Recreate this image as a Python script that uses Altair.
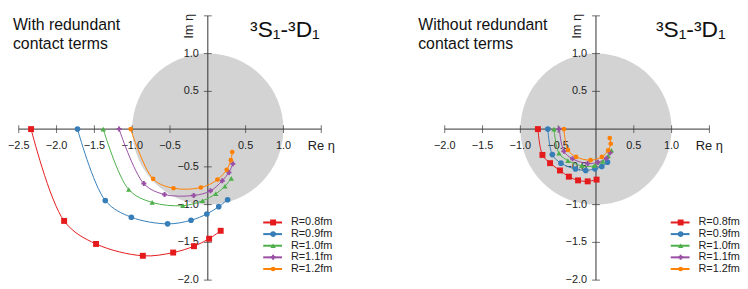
import altair as alt
import pandas as pd

# ---------------- data ----------------
labels = ["R=0.8fm", "R=0.9fm", "R=1.0fm", "R=1.1fm", "R=1.2fm"]
colors = ["#e41a1c", "#377eb8", "#4daf4a", "#984ea3", "#ff7f00"]
shapes = ["square", "circle", "triangle-up", "cross", "circle"]
sizes = [36, 22, 42, 24, 62]

# With redundant contact terms
w08_re = [-2.337, -1.900, -1.478, -0.859, -0.458, -0.183, 0.017, 0.170]
w08_im = [0.0, -1.216, -1.521, -1.678, -1.635, -1.551, -1.452, -1.347]
w09_re = [-1.723, -1.356, -1.011, -0.532, -0.222, -0.013, 0.144, 0.262]
w09_im = [0.0, -0.945, -1.167, -1.255, -1.207, -1.124, -1.027, -0.935]
w10_re = [-1.383, -1.046, -0.736, -0.331, -0.069, 0.105, 0.226, 0.310]
w10_im = [0.0, -0.800, -0.971, -1.014, -0.949, -0.857, -0.757, -0.652]
w11_re = [-1.173, -0.846, -0.572, -0.187, 0.035, 0.191, 0.279, 0.331]
w11_im = [0.0, -0.722, -0.866, -0.879, -0.818, -0.683, -0.574, -0.460]
w12_re = [-1.020, -0.723, -0.454, -0.092, 0.127, 0.249, 0.305, 0.323]
w12_im = [0.0, -0.660, -0.783, -0.774, -0.669, -0.538, -0.411, -0.303]

# Without redundant contact terms
n08_re = [-0.768, -0.708, -0.607, -0.476, -0.358, -0.237, -0.110, 0.008]
n08_im = [0.0, -0.342, -0.451, -0.548, -0.630, -0.679, -0.692, -0.669]
n09_re = [-0.637, -0.577, -0.463, -0.271, -0.136, -0.014, 0.077, 0.152]
n09_im = [0.0, -0.338, -0.451, -0.529, -0.548, -0.526, -0.496, -0.438]
n10_re = [-0.555, -0.489, -0.371, -0.188, -0.022, 0.090, 0.161, 0.204]
n10_im = [0.0, -0.320, -0.417, -0.486, -0.486, -0.430, -0.355, -0.280]
n11_re = [-0.485, -0.424, -0.310, -0.110, 0.025, 0.139, 0.187]
n11_im = [0.0, -0.293, -0.394, -0.456, -0.438, -0.385, -0.312]
n12_re = [-0.424, -0.371, -0.263, -0.071, 0.077, 0.161, 0.195, 0.182]
n12_im = [0.0, -0.276, -0.368, -0.411, -0.368, -0.280, -0.194, -0.119]

x_ticks_with = [-2.5, -2.0, -1.5, -1.0, -0.5, 0.5, 1.0]
x_ticks_without = [-2.0, -1.5, -1.0, -0.5, 0.5, 1.0]
y_ticks = [1.0, 0.5, -0.5, -1.0, -1.5, -2.0]
axis_end = 1.5
y_axis_start = -2.0

# ---------------- layout ----------------
W, H = 366, 273
SX, SY = 76.45, 76.33
OY = 122.9 - 8  # plot-area y of Im=0
FONT = "Liberation Sans"
AXC = "#333333"


def fmt(v):
    return f"{v:.1f}".replace("-", "\u2212")


def panel(series, xticks, ox, titles, title_x, term_x, leg_x):
    xs = alt.Scale(domain=[-ox / SX, (W - ox) / SX], nice=False, zero=False)
    ys = alt.Scale(domain=[(OY - H) / SY, OY / SY], nice=False, zero=False)
    X = lambda f: alt.X(f, type="quantitative", scale=xs, axis=None)
    Y = lambda f: alt.Y(f, type="quantitative", scale=ys, axis=None)

    circle = alt.Chart(pd.DataFrame({"x": [0.0], "y": [0.0]})).mark_point(
        shape="circle", filled=True, size=(2 * 76.4) ** 2, color="#d3d3d3", opacity=1, strokeWidth=0
    ).encode(x=X("x"), y=Y("y"))

    x_start = xticks[0]
    axes_df = pd.DataFrame({"x": [x_start, 0.0], "x2": [axis_end, 0.0],
                            "y": [0.0, y_axis_start], "y2": [0.0, axis_end]})
    axes = alt.Chart(axes_df).mark_rule(color=AXC, strokeWidth=1).encode(
        x=X("x"), x2="x2", y=Y("y"), y2="y2")

    xt_df = pd.DataFrame({"x": xticks + [axis_end], "y": 0.0,
                          "t": [fmt(v) for v in xticks] + [""]})
    yt_df = pd.DataFrame({"x": 0.0, "y": y_ticks + [axis_end],
                          "t": [fmt(v) for v in y_ticks] + [""]})
    xtick = alt.Chart(xt_df).mark_tick(orient="vertical", size=8, thickness=1, color=AXC).encode(
        x=X("x"), y=Y("y"))
    ytick = alt.Chart(yt_df).mark_tick(orient="horizontal", size=8, thickness=1, color=AXC).encode(
        x=X("x"), y=Y("y"))
    xlab = alt.Chart(xt_df).mark_text(dy=17, fontSize=11, font=FONT, color="#222222",
                                      baseline="middle", align="center").encode(
        x=X("x"), y=Y("y"), text="t:N")
    ylab = alt.Chart(yt_df).mark_text(dx=-9, fontSize=11, font=FONT, color="#222222",
                                      baseline="middle", align="right").encode(
        x=X("x"), y=Y("y"), text="t:N")
    re_lab = alt.Chart(pd.DataFrame({"x": [axis_end], "y": [0.0]})).mark_text(
        text="Re \u03b7", dy=17, fontSize=13, font=FONT, color="#222222", baseline="middle",
        align="center").encode(x=X("x"), y=Y("y"))
    im_lab = alt.Chart(pd.DataFrame({"x": [0.0], "y": [axis_end]})).mark_text(
        text="Im \u03b7", angle=270, dy=-19, dx=2, fontSize=13, font=FONT, color="#222222",
        baseline="middle", align="right").encode(x=X("x"), y=Y("y"))

    rows = []
    for lab, (re, im) in zip(labels, series):
        for i, (a, b) in enumerate(zip(re, im)):
            rows.append({"s": lab, "i": i, "re": a, "im": b})
    cdf = pd.DataFrame(rows)
    col = alt.Color("s:N", scale=alt.Scale(domain=labels, range=colors), legend=None)
    shp = alt.Shape("s:N", scale=alt.Scale(domain=labels, range=shapes), legend=None)
    siz = alt.Size("s:N", scale=alt.Scale(domain=labels, range=sizes), legend=None)
    lines = alt.Chart(cdf).mark_line(interpolate="catmull-rom", strokeWidth=1).encode(
        x=X("re"), y=Y("im"), color=col, detail="s:N", order="i:Q")
    pts = alt.Chart(cdf).mark_point(filled=True, opacity=1).encode(
        x=X("re"), y=Y("im"), color=col, shape=shp, size=siz)

    leg_rows = [217.3 - 8 + k * 11.75 for k in range(len(labels))]
    ldf = pd.DataFrame({"s": labels, "ly": [(OY - r) / SY for r in leg_rows]})
    lrule = alt.Chart(ldf).mark_rule(strokeWidth=2).encode(
        x=alt.value(leg_x), x2=alt.value(leg_x + 19), y=Y("ly"), color=col)
    lpt = alt.Chart(ldf).mark_point(filled=True, opacity=1).encode(
        x=alt.value(leg_x + 10), y=Y("ly"), color=col, shape=shp, size=siz)
    ltxt = alt.Chart(ldf).mark_text(align="left", baseline="middle", fontSize=11, font=FONT,
                                    color="#222222").encode(
        x=alt.value(leg_x + 28), y=Y("ly"), text="s:N")

    one = pd.DataFrame({"a": [0]})
    t1 = alt.Chart(one).mark_text(text=titles[0], align="left", baseline="alphabetic",
                                  fontSize=16, font=FONT, color="#111111").encode(
        x=alt.value(title_x), y=alt.value(14.7))
    t2 = alt.Chart(one).mark_text(text=titles[1], align="left", baseline="alphabetic",
                                  fontSize=16, font=FONT, color="#111111").encode(
        x=alt.value(title_x), y=alt.value(33.7))
    term = alt.Chart(one).mark_text(text="\u00b3S\u2081-\u00b3D\u2081", align="left",
                                    baseline="alphabetic", fontSize=23, font=FONT,
                                    color="#111111").encode(
        x=alt.value(term_x), y=alt.value(21.3))

    return alt.layer(circle, axes, xtick, ytick, xlab, ylab, re_lab, im_lab, lines, pts,
                     lrule, lpt, ltxt, t1, t2, term).properties(width=W, height=H)


left = panel([(w08_re, w08_im), (w09_re, w09_im), (w10_re, w10_im), (w11_re, w11_im),
              (w12_re, w12_im)], x_ticks_with, 208 - 8,
             ["With redundant", "contact terms"], 3, 242.7, 264 - 8)
right = panel([(n08_re, n08_im), (n09_re, n09_im), (n10_re, n10_im), (n11_re, n11_im),
               (n12_re, n12_im)], x_ticks_without, 600.4 - 374,
              ["Without redundant", "contact terms"], 420.7 - 374, 287, 676 - 374)

chart = alt.hconcat(left, right, spacing=0, bounds="flush").resolve_scale(
    x="independent", y="independent"
).properties(padding=0).configure_view(stroke=None)

chart.save("out.html", embed_options={"renderer": "svg", "actions": False})
